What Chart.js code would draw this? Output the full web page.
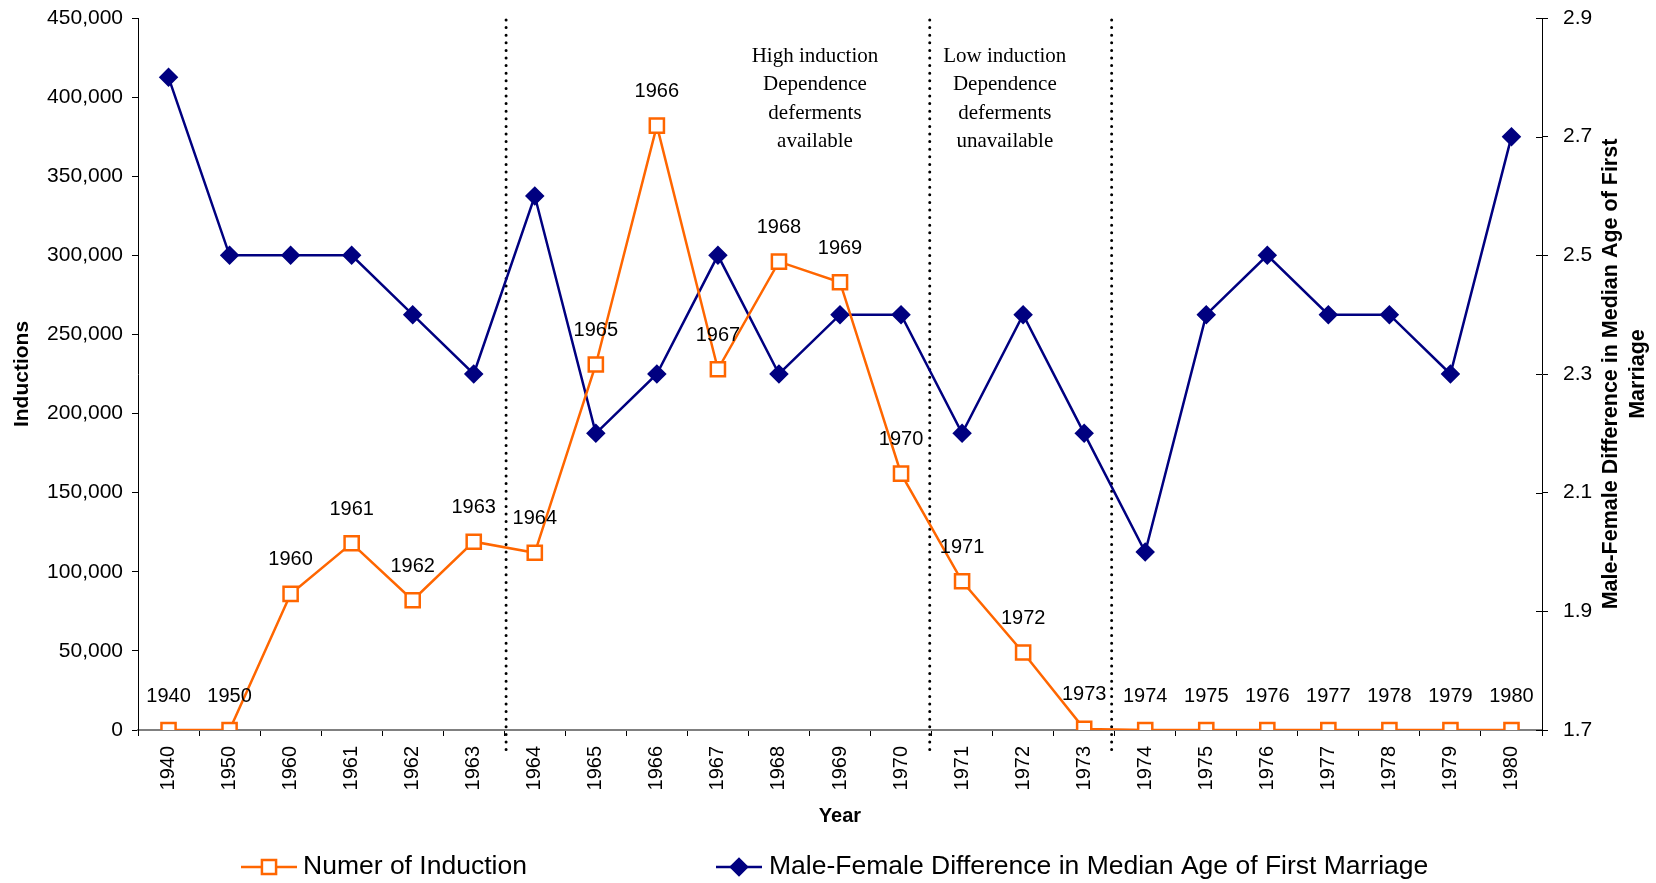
<!DOCTYPE html>
<html>
<head>
<meta charset="utf-8">
<script src="https://cdn.jsdelivr.net/npm/chart.js@4.4.0/dist/chart.umd.min.js"></script>
<style>
    body { margin: 0; background: #fff; }
    #wrap { width: 1656px; height: 883px; position: relative; }
</style>
</head>
<body>
<div id="wrap"><canvas id="chart"></canvas></div>
<script>
// Data
const years = ['1940', '1950', '1960', '1961', '1962', '1963', '1964', '1965', '1966', '1967', '1968',
    '1969', '1970', '1971', '1972', '1973', '1974', '1975', '1976', '1977', '1978', '1979', '1980'];
const inductions = [0, 0, 86000, 118000, 82000, 119000, 112000, 231000, 382000, 228000, 296000,
    283000, 162000, 94000, 49000, 700, 0, 0, 0, 0, 0, 0, 0];
const ageGap = [2.8, 2.5, 2.5, 2.5, 2.4, 2.3, 2.6, 2.2, 2.3, 2.5, 2.3,
    2.4, 2.4, 2.2, 2.4, 2.2, 2.0, 2.4, 2.5, 2.4, 2.4, 2.3, 2.7];

const inductionAxis = { min: 0, max: 450000, step: 50000 };
const ageAxis = { min: 1.7, max: 2.9, step: 0.2 };

const seriesNames = ['Numer of Induction', 'Male-Female Difference in Median Age of First Marriage'];
const rightTitle = ['Male-Female Difference in Median Age of First', 'Marriage'];

// dotted period separators, as category positions
const periodBreaks = [5.53, 12.47, 15.45];
const periodNotes = [
    { at: 10.59, lines: ['High induction', 'Dependence', 'deferments', 'available'] },
    { at: 13.70, lines: ['Low induction', 'Dependence', 'deferments', 'unavailable'] }
];

const ORANGE = '#FF6600';
const NAVY = '#000080';
const SANS = '"Liberation Sans", Arial, sans-serif';
const SERIF = '"Liberation Serif", "Times New Roman", serif';

const extras = {
    id: 'extras',
    beforeDatasetsDraw(chart) {
        const ctx = chart.ctx;
        const x = chart.scales.x;
        const area = chart.chartArea;
        ctx.save();
        // dotted separators
        ctx.strokeStyle = '#000';
        ctx.lineWidth = 3;
        ctx.lineCap = 'round';
        ctx.setLineDash([0, 7.6]);
        periodBreaks.forEach(p => {
            const px = x.getPixelForValue(p);
            ctx.beginPath();
            ctx.moveTo(px, area.top + 2);
            ctx.lineTo(px, area.bottom + 23);
            ctx.stroke();
        });
        ctx.setLineDash([]);
        // period notes
        ctx.fillStyle = '#000';
        ctx.font = '21px ' + SERIF;
        ctx.textAlign = 'center';
        ctx.textBaseline = 'middle';
        periodNotes.forEach(n => {
            const px = x.getPixelForValue(n.at);
            n.lines.forEach((t, i) => ctx.fillText(t, px, 56 + i * 28.5));
        });
        ctx.restore();
    },
    afterDatasetsDraw(chart) {
        const ctx = chart.ctx;
        ctx.save();
        // year labels above the induction points
        ctx.fillStyle = '#000';
        ctx.font = '20px ' + SANS;
        ctx.textAlign = 'center';
        ctx.textBaseline = 'middle';
        chart.getDatasetMeta(0).data.forEach((pt, i) => {
            ctx.fillText(years[i], pt.x, pt.y - 34);
        });

        // right axis: ticks crossing into the plot
        const y1 = chart.scales.y1;
        ctx.strokeStyle = '#000';
        ctx.lineWidth = 1;
        y1.ticks.forEach(t => {
            const py = Math.round(y1.getPixelForValue(t.value)) + 0.5;
            ctx.beginPath();
            ctx.moveTo(y1.left - 6, py);
            ctx.lineTo(y1.left, py);
            ctx.stroke();
        });

        // right axis title, reading bottom to top
        const cy = (chart.chartArea.top + chart.chartArea.bottom) / 2;
        ctx.font = 'bold 21.5px ' + SANS;
        rightTitle.forEach((t, i) => {
            ctx.save();
            ctx.translate(1611 + i * 27, cy);
            ctx.rotate(-Math.PI / 2);
            ctx.fillText(t, 0, 0);
            ctx.restore();
        });

        // legend
        const ly = 867;
        const items = [
            { x0: 241, x1: 297, tx: 303, color: ORANGE, style: 'rect', r: 10, fill: '#fff' },
            { x0: 716, x1: 762, tx: 769, color: NAVY, style: 'rectRot', r: 8, fill: NAVY }
        ];
        items.forEach((it, i) => {
            ctx.strokeStyle = it.color;
            ctx.lineWidth = 2.5;
            ctx.beginPath();
            ctx.moveTo(it.x0, ly);
            ctx.lineTo(it.x1, ly);
            ctx.stroke();
            ctx.fillStyle = it.fill;
            Chart.helpers.drawPoint(ctx, { pointStyle: it.style, radius: it.r, rotation: 0, borderWidth: 2.5 },
                (it.x0 + it.x1) / 2, ly);
            ctx.fillStyle = '#000';
            ctx.font = '26.5px ' + SANS;
            ctx.textAlign = 'left';
            ctx.fillText(seriesNames[i], it.tx, ly);
        });
        ctx.restore();
    }
};

// keep the plot edges where the reference has them
const fixVertical = (w) => (s) => { s.width = w; s.paddingTop = 0; s.paddingBottom = 0; };

const ctx = document.getElementById('chart').getContext('2d');
const chart = new Chart(ctx, {
    type: 'line',
    data: {
        labels: years,
        datasets: [
            {
                label: seriesNames[0],
                data: inductions,
                yAxisID: 'y',
                borderColor: ORANGE,
                borderWidth: 2.5,
                pointStyle: 'rect',
                pointRadius: 10,
                pointBorderWidth: 2.5,
                pointBackgroundColor: '#fff',
                pointBorderColor: ORANGE,
                tension: 0
            },
            {
                label: seriesNames[1],
                data: ageGap,
                yAxisID: 'y1',
                borderColor: NAVY,
                borderWidth: 2.5,
                pointStyle: 'rectRot',
                pointRadius: 8,
                pointBackgroundColor: NAVY,
                pointBorderColor: NAVY,
                tension: 0
            }
        ]
    },
    options: {
        responsive: true,
        maintainAspectRatio: false,
        animation: false,
        layout: { padding: { top: 18, bottom: 55, left: 0, right: 0 } },
        plugins: {
            legend: { display: false },
            tooltip: { enabled: false }
        },
        scales: {
            x: {
                offset: true,
                afterFit: (s) => { s.height = 98; },
                grid: { drawOnChartArea: false, offset: true, tickLength: 6, color: '#000' },
                border: { color: '#808080', width: 2 },
                ticks: {
                    minRotation: 90, maxRotation: 90, padding: 10,
                    color: '#000', font: { family: SANS, size: 20 }
                },
                title: {
                    display: true, text: 'Year', color: '#000', padding: 0,
                    font: { family: SANS, size: 20, weight: 'bold' }
                }
            },
            y: {
                position: 'left',
                min: inductionAxis.min,
                max: inductionAxis.max,
                afterFit: fixVertical(138),
                grid: { drawOnChartArea: false, tickLength: 6, color: '#000' },
                border: { color: '#000', width: 1 },
                ticks: {
                    stepSize: inductionAxis.step, padding: 9, color: '#000',
                    font: { family: SANS, size: 21 },
                    callback: (v) => v.toLocaleString('en-US')
                },
                title: {
                    display: true, text: 'Inductions', color: '#000', padding: 10,
                    font: { family: SANS, size: 21, weight: 'bold' }
                }
            },
            y1: {
                position: 'right',
                min: ageAxis.min,
                max: ageAxis.max,
                afterFit: fixVertical(114),
                grid: { drawOnChartArea: false, tickLength: 6, color: '#000' },
                border: { color: '#000', width: 1 },
                ticks: {
                    stepSize: ageAxis.step, padding: 15, color: '#000',
                    font: { family: SANS, size: 21 },
                    callback: (v) => v.toFixed(1)
                }
            }
        }
    },
    plugins: [extras]
});
</script>
</body>
</html>
